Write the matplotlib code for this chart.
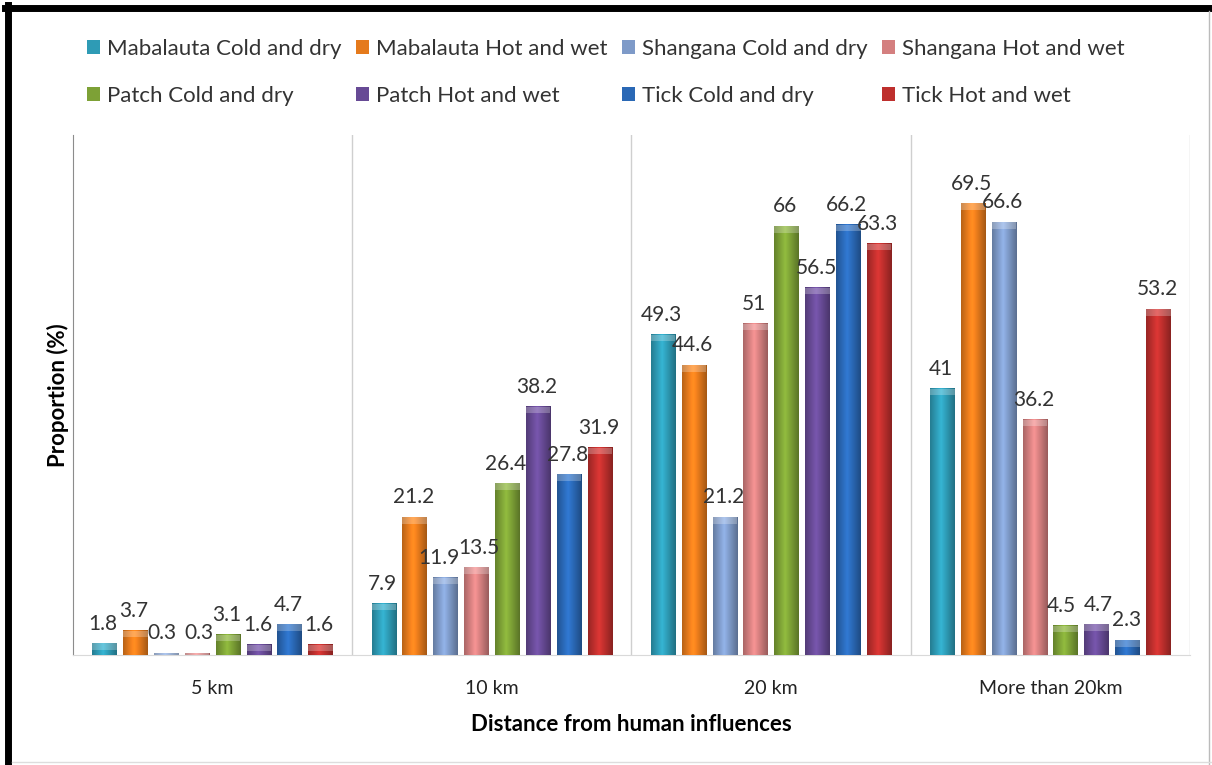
import numpy as np
import matplotlib.pyplot as plt
from matplotlib.colors import to_rgb
from matplotlib.lines import Line2D
from matplotlib.patches import Rectangle

plt.rcParams['font.family'] = ['Lato', 'DejaVu Sans']

# Categories and series values
categories = ['5 km', '10 km', '20 km', 'More than 20km']
series_names = ['Mabalauta Cold and dry', 'Mabalauta Hot and wet',
                'Shangana Cold and dry', 'Shangana Hot and wet',
                'Patch Cold and dry', 'Patch Hot and wet',
                'Tick Cold and dry', 'Tick Hot and wet']
mabalauta_cold = [1.8, 7.9, 49.3, 41]
mabalauta_hot = [3.7, 21.2, 44.6, 69.5]
shangana_cold = [0.3, 11.9, 21.2, 66.6]
shangana_hot = [0.3, 13.5, 51, 36.2]
patch_cold = [3.1, 26.4, 66, 4.5]
patch_hot = [1.6, 38.2, 56.5, 4.7]
tick_cold = [4.7, 27.8, 66.2, 2.3]
tick_hot = [1.6, 31.9, 63.3, 53.2]
series_values = [mabalauta_cold, mabalauta_hot, shangana_cold, shangana_hot,
                 patch_cold, patch_hot, tick_cold, tick_hot]
colors = ['#2E9BB5', '#E57A1C', '#7E9AC8', '#D47F7F',
          '#7DA136', '#674A95', '#2A68B5', '#BE2F2D']

# small sideways nudges (points) for crowded labels: (series, category) -> dx
nudges = {(2, 1): -4, (3, 1): 3, (2, 0): -2, (3, 0): 2, (4, 3): -2, (5, 3): 2}


def gradient_row(color, n=64):
    # dark edges, lighter middle: a rough stand-in for Excel's bevel
    base = np.array(to_rgb(color))
    t = np.linspace(0, 1, n)
    light = 1 - np.abs(t - 0.45) / 0.55
    light = np.clip(light, 0, 1)
    shade = 0.72 + 0.45 * light
    row = np.clip(base[None, :] * shade[:, None], 0, 1)
    return row[None, :, :]


fig = plt.figure(figsize=(12.12, 7.65), dpi=100)
ax = fig.add_axes([0.0602, 0.1438, 0.9216, 0.6797])

pitch = 0.1105
width = 0.088
x0 = np.arange(len(categories)) + 0.5
handles = []
for i, (vals, col) in enumerate(zip(series_values, colors)):
    xs = x0 + (i - 3.5) * pitch
    bars = ax.bar(xs, vals, width, color=col, zorder=2, linewidth=0)
    for b in bars:
        x, w, h = b.get_x(), b.get_width(), b.get_height()
        ax.imshow(gradient_row(col), extent=[x, x + w, 0, h], aspect='auto',
                  interpolation='bilinear', zorder=3)
        # lighter cap on top of each bar
        cap = min(1.0, h)
        ax.add_patch(Rectangle((x, h - cap), w, cap, color='white', alpha=0.25,
                               linewidth=0, zorder=4))
    for j, (xv, v) in enumerate(zip(xs, vals)):
        dx = nudges.get((i, j), 0) - 1
        ax.annotate('{:g}'.format(v), (xv, v), xytext=(dx, 7), textcoords='offset points',
                    ha='center', va='bottom', fontsize=15, color='#333333', zorder=5)
    handles.append(Rectangle((0, 0), 1, 1, facecolor=col, edgecolor='none'))

ax.set_xlim(0, 4)
ax.set_ylim(0, 80)
for xv in [1, 2, 3, 4]:
    ax.axvline(xv, color='#CFCFCF', linewidth=1, zorder=1)
for s in ['top', 'right']:
    ax.spines[s].set_visible(False)
ax.spines['left'].set_color('#8C8C8C')
ax.spines['bottom'].set_color('#D9D9D9')
ax.set_yticks([])
ax.set_xticks(x0)
ax.set_xticklabels(categories, fontsize=14, color='#222222')
ax.tick_params(axis='x', length=0, pad=18)
ax.set_xlabel('Distance from human influences', fontsize=16, fontweight='bold', labelpad=12)
ax.set_ylabel('Proportion (%)', fontsize=16, fontweight='bold', labelpad=3)

order = [0, 4, 1, 5, 2, 6, 3, 7]
fig.legend([handles[k] for k in order], [series_names[k] for k in order],
           ncol=4, loc='upper left', bbox_to_anchor=(0.055, 0.975), frameon=False,
           fontsize=16, handlelength=0.6, handleheight=0.6, handletextpad=0.3,
           columnspacing=0.65, labelspacing=1.2, labelcolor='#333333')

# frame around the picture
fig.add_artist(Line2D([0.0066, 0.0066], [0, 0.9935], color='black', linewidth=5,
                      transform=fig.transFigure))
fig.add_artist(Line2D([0.0045, 1.0], [0.9895, 0.9895], color='black', linewidth=5,
                      transform=fig.transFigure))
fig.add_artist(Line2D([0.9975, 0.9975], [0, 0.985], color='#BBBBBB', linewidth=1,
                      transform=fig.transFigure))
fig.add_artist(Line2D([0.01, 1.0], [0.004, 0.004], color='#DDDDDD', linewidth=1,
                      transform=fig.transFigure))

fig.savefig('out.png', dpi=100)
